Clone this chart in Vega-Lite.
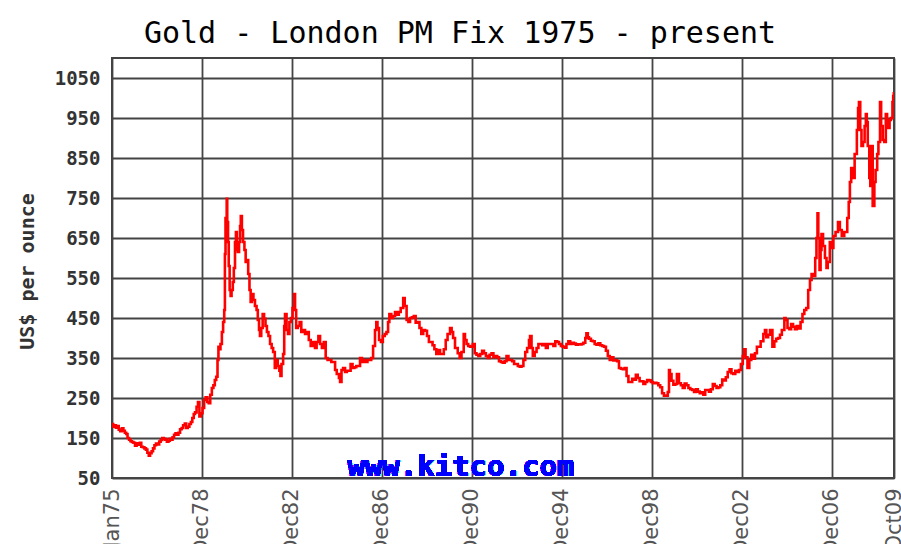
{
  "$schema": "https://vega.github.io/schema/vega-lite/v6.json",
  "autosize": "none",
  "width": 782,
  "height": 420,
  "padding": {"left": 112, "top": 58, "right": 7, "bottom": 66},
  "background": "white",
  "title": {
    "text": "Gold - London PM Fix 1975 - present",
    "font": "DejaVu Sans Mono",
    "fontSize": 30,
    "fontWeight": "normal",
    "color": "#000000",
    "anchor": "middle",
    "frame": "group",
    "baseline": "alphabetic",
    "offset": 14,
    "dx": -43,
    "dy": 29
  },
  "config": {
    "view": {"stroke": "#444444", "strokeWidth": 2},
    "axis": {"gridColor": "#444444", "gridWidth": 1.8, "gridOpacity": 1, "domain": false, "ticks": false}
  },
  "data": {
    "values": [
      {"d": "1975-01-02", "p": 185}, {"d": "1975-01-20", "p": 178}, {"d": "1975-02-10", "p": 182}, {"d": "1975-03-05", "p": 176},
      {"d": "1975-03-25", "p": 180}, {"d": "1975-04-20", "p": 171}, {"d": "1975-05-15", "p": 167}, {"d": "1975-06-10", "p": 174},
      {"d": "1975-07-05", "p": 168}, {"d": "1975-07-28", "p": 163}, {"d": "1975-08-20", "p": 160}, {"d": "1975-09-10", "p": 150},
      {"d": "1975-10-05", "p": 146}, {"d": "1975-10-28", "p": 142}, {"d": "1975-11-20", "p": 140}, {"d": "1975-12-15", "p": 138},
      {"d": "1976-01-10", "p": 131}, {"d": "1976-02-05", "p": 137}, {"d": "1976-03-01", "p": 133}, {"d": "1976-03-28", "p": 138},
      {"d": "1976-04-20", "p": 128}, {"d": "1976-05-15", "p": 127}, {"d": "1976-06-10", "p": 124}, {"d": "1976-07-05", "p": 121},
      {"d": "1976-07-28", "p": 113}, {"d": "1976-08-20", "p": 106}, {"d": "1976-09-10", "p": 112}, {"d": "1976-10-05", "p": 117},
      {"d": "1976-10-28", "p": 124}, {"d": "1976-11-20", "p": 132}, {"d": "1976-12-15", "p": 136}, {"d": "1977-01-10", "p": 134},
      {"d": "1977-02-05", "p": 141}, {"d": "1977-03-01", "p": 145}, {"d": "1977-03-28", "p": 150}, {"d": "1977-04-20", "p": 148},
      {"d": "1977-05-15", "p": 146}, {"d": "1977-06-10", "p": 141}, {"d": "1977-07-05", "p": 143}, {"d": "1977-07-28", "p": 148},
      {"d": "1977-08-20", "p": 146}, {"d": "1977-09-10", "p": 152}, {"d": "1977-10-05", "p": 158}, {"d": "1977-10-28", "p": 162},
      {"d": "1977-11-20", "p": 158}, {"d": "1977-12-15", "p": 163}, {"d": "1978-01-10", "p": 172}, {"d": "1978-02-05", "p": 175},
      {"d": "1978-03-01", "p": 182}, {"d": "1978-03-28", "p": 186}, {"d": "1978-04-20", "p": 175}, {"d": "1978-05-15", "p": 178},
      {"d": "1978-06-10", "p": 185}, {"d": "1978-07-05", "p": 190}, {"d": "1978-07-28", "p": 200}, {"d": "1978-08-20", "p": 210},
      {"d": "1978-09-10", "p": 214}, {"d": "1978-10-05", "p": 228}, {"d": "1978-10-28", "p": 240}, {"d": "1978-11-20", "p": 204},
      {"d": "1978-12-15", "p": 212}, {"d": "1979-01-10", "p": 225}, {"d": "1979-02-05", "p": 245}, {"d": "1979-03-01", "p": 252},
      {"d": "1979-03-28", "p": 240}, {"d": "1979-04-20", "p": 237}, {"d": "1979-05-15", "p": 258}, {"d": "1979-06-10", "p": 275},
      {"d": "1979-07-05", "p": 282}, {"d": "1979-07-28", "p": 295}, {"d": "1979-08-20", "p": 303}, {"d": "1979-09-10", "p": 345},
      {"d": "1979-09-25", "p": 378}, {"d": "1979-10-10", "p": 372}, {"d": "1979-10-28", "p": 385}, {"d": "1979-11-20", "p": 415},
      {"d": "1979-12-10", "p": 440}, {"d": "1979-12-28", "p": 470}, {"d": "1980-01-08", "p": 610}, {"d": "1980-01-18", "p": 700},
      {"d": "1980-02-06", "p": 748}, {"d": "1980-02-15", "p": 690}, {"d": "1980-02-28", "p": 640}, {"d": "1980-03-10", "p": 580},
      {"d": "1980-03-25", "p": 520}, {"d": "1980-04-10", "p": 505}, {"d": "1980-04-25", "p": 520}, {"d": "1980-05-15", "p": 540},
      {"d": "1980-06-01", "p": 575}, {"d": "1980-06-20", "p": 640}, {"d": "1980-07-05", "p": 665}, {"d": "1980-07-20", "p": 620},
      {"d": "1980-08-05", "p": 615}, {"d": "1980-08-25", "p": 640}, {"d": "1980-09-10", "p": 680}, {"d": "1980-09-22", "p": 705},
      {"d": "1980-10-10", "p": 670}, {"d": "1980-10-28", "p": 640}, {"d": "1980-11-20", "p": 620}, {"d": "1980-12-10", "p": 590},
      {"d": "1980-12-28", "p": 595}, {"d": "1981-01-20", "p": 560}, {"d": "1981-02-10", "p": 520}, {"d": "1981-03-01", "p": 490},
      {"d": "1981-03-20", "p": 510}, {"d": "1981-04-15", "p": 495}, {"d": "1981-05-10", "p": 480}, {"d": "1981-06-05", "p": 470},
      {"d": "1981-06-25", "p": 445}, {"d": "1981-07-15", "p": 420}, {"d": "1981-07-30", "p": 405}, {"d": "1981-08-20", "p": 425},
      {"d": "1981-09-12", "p": 460}, {"d": "1981-10-05", "p": 448}, {"d": "1981-10-28", "p": 430}, {"d": "1981-11-20", "p": 415},
      {"d": "1981-12-15", "p": 405}, {"d": "1982-01-10", "p": 385}, {"d": "1982-02-05", "p": 375}, {"d": "1982-03-01", "p": 365},
      {"d": "1982-03-28", "p": 325}, {"d": "1982-04-20", "p": 345}, {"d": "1982-05-15", "p": 330}, {"d": "1982-06-10", "p": 318},
      {"d": "1982-06-28", "p": 305}, {"d": "1982-07-15", "p": 335}, {"d": "1982-08-10", "p": 360}, {"d": "1982-08-28", "p": 430},
      {"d": "1982-09-10", "p": 460}, {"d": "1982-10-05", "p": 420}, {"d": "1982-10-28", "p": 410}, {"d": "1982-11-20", "p": 440},
      {"d": "1982-12-15", "p": 450}, {"d": "1983-01-10", "p": 475}, {"d": "1983-02-05", "p": 510}, {"d": "1983-02-20", "p": 470},
      {"d": "1983-03-10", "p": 425}, {"d": "1983-04-05", "p": 430}, {"d": "1983-05-05", "p": 440}, {"d": "1983-06-01", "p": 415},
      {"d": "1983-07-01", "p": 420}, {"d": "1983-08-01", "p": 410}, {"d": "1983-09-01", "p": 415}, {"d": "1983-10-01", "p": 395},
      {"d": "1983-11-01", "p": 380}, {"d": "1983-12-12", "p": 390}, {"d": "1984-01-10", "p": 375}, {"d": "1984-02-05", "p": 390},
      {"d": "1984-03-05", "p": 405}, {"d": "1984-04-01", "p": 385}, {"d": "1984-05-01", "p": 375}, {"d": "1984-06-01", "p": 390},
      {"d": "1984-07-01", "p": 350}, {"d": "1984-08-01", "p": 345}, {"d": "1984-09-01", "p": 345}, {"d": "1984-10-01", "p": 340},
      {"d": "1984-11-01", "p": 340}, {"d": "1984-12-01", "p": 320}, {"d": "1984-12-28", "p": 310}, {"d": "1985-02-01", "p": 300},
      {"d": "1985-02-20", "p": 290}, {"d": "1985-03-15", "p": 320}, {"d": "1985-04-10", "p": 325}, {"d": "1985-05-12", "p": 315},
      {"d": "1985-06-10", "p": 318}, {"d": "1985-07-10", "p": 318}, {"d": "1985-08-10", "p": 335}, {"d": "1985-09-10", "p": 325},
      {"d": "1985-10-10", "p": 327}, {"d": "1985-11-10", "p": 330}, {"d": "1985-12-10", "p": 330}, {"d": "1986-01-10", "p": 350},
      {"d": "1986-02-10", "p": 340}, {"d": "1986-03-10", "p": 345}, {"d": "1986-04-10", "p": 340}, {"d": "1986-05-10", "p": 345},
      {"d": "1986-06-10", "p": 345}, {"d": "1986-07-10", "p": 350}, {"d": "1986-08-10", "p": 380}, {"d": "1986-09-10", "p": 420},
      {"d": "1986-10-01", "p": 440}, {"d": "1986-10-20", "p": 425}, {"d": "1986-11-15", "p": 395}, {"d": "1986-12-15", "p": 390},
      {"d": "1987-01-15", "p": 405}, {"d": "1987-02-15", "p": 410}, {"d": "1987-03-15", "p": 415}, {"d": "1987-04-10", "p": 440},
      {"d": "1987-05-01", "p": 460}, {"d": "1987-06-01", "p": 450}, {"d": "1987-07-01", "p": 455}, {"d": "1987-08-01", "p": 465},
      {"d": "1987-09-01", "p": 458}, {"d": "1987-10-01", "p": 465}, {"d": "1987-11-01", "p": 475}, {"d": "1987-12-12", "p": 500},
      {"d": "1988-01-05", "p": 480}, {"d": "1988-02-05", "p": 445}, {"d": "1988-03-05", "p": 440}, {"d": "1988-04-01", "p": 450},
      {"d": "1988-05-01", "p": 452}, {"d": "1988-06-01", "p": 455}, {"d": "1988-07-01", "p": 438}, {"d": "1988-08-01", "p": 440},
      {"d": "1988-09-01", "p": 425}, {"d": "1988-10-01", "p": 410}, {"d": "1988-11-01", "p": 420}, {"d": "1988-12-01", "p": 418},
      {"d": "1989-01-01", "p": 405}, {"d": "1989-02-01", "p": 390}, {"d": "1989-03-01", "p": 390}, {"d": "1989-04-01", "p": 382},
      {"d": "1989-05-01", "p": 372}, {"d": "1989-06-01", "p": 360}, {"d": "1989-07-01", "p": 370}, {"d": "1989-08-01", "p": 360},
      {"d": "1989-09-01", "p": 360}, {"d": "1989-10-01", "p": 372}, {"d": "1989-11-01", "p": 395}, {"d": "1989-12-01", "p": 410},
      {"d": "1990-01-10", "p": 425}, {"d": "1990-02-05", "p": 415}, {"d": "1990-03-01", "p": 400}, {"d": "1990-04-01", "p": 375},
      {"d": "1990-05-15", "p": 362}, {"d": "1990-06-15", "p": 350}, {"d": "1990-07-15", "p": 365}, {"d": "1990-08-20", "p": 410},
      {"d": "1990-09-10", "p": 395}, {"d": "1990-10-05", "p": 385}, {"d": "1990-11-01", "p": 380}, {"d": "1990-12-01", "p": 378},
      {"d": "1991-01-15", "p": 385}, {"d": "1991-02-15", "p": 362}, {"d": "1991-03-15", "p": 358}, {"d": "1991-04-15", "p": 355},
      {"d": "1991-05-15", "p": 360}, {"d": "1991-06-15", "p": 368}, {"d": "1991-07-15", "p": 362}, {"d": "1991-08-15", "p": 355},
      {"d": "1991-09-15", "p": 350}, {"d": "1991-10-15", "p": 358}, {"d": "1991-11-15", "p": 362}, {"d": "1991-12-15", "p": 352},
      {"d": "1992-01-15", "p": 355}, {"d": "1992-02-15", "p": 352}, {"d": "1992-03-15", "p": 342}, {"d": "1992-04-15", "p": 340},
      {"d": "1992-05-15", "p": 338}, {"d": "1992-06-15", "p": 342}, {"d": "1992-07-15", "p": 355}, {"d": "1992-08-15", "p": 345},
      {"d": "1992-09-15", "p": 345}, {"d": "1992-10-15", "p": 342}, {"d": "1992-11-15", "p": 335}, {"d": "1992-12-15", "p": 335},
      {"d": "1993-01-15", "p": 330}, {"d": "1993-02-15", "p": 328}, {"d": "1993-03-15", "p": 330}, {"d": "1993-04-15", "p": 345},
      {"d": "1993-05-15", "p": 365}, {"d": "1993-06-15", "p": 375}, {"d": "1993-07-15", "p": 395}, {"d": "1993-08-01", "p": 405},
      {"d": "1993-08-25", "p": 375}, {"d": "1993-09-15", "p": 355}, {"d": "1993-10-15", "p": 365}, {"d": "1993-11-15", "p": 375},
      {"d": "1993-12-15", "p": 385}, {"d": "1994-01-15", "p": 385}, {"d": "1994-02-15", "p": 382}, {"d": "1994-03-15", "p": 385},
      {"d": "1994-04-15", "p": 375}, {"d": "1994-05-15", "p": 385}, {"d": "1994-06-15", "p": 385}, {"d": "1994-07-15", "p": 385},
      {"d": "1994-08-15", "p": 380}, {"d": "1994-09-15", "p": 392}, {"d": "1994-10-15", "p": 390}, {"d": "1994-11-15", "p": 385},
      {"d": "1994-12-15", "p": 380}, {"d": "1995-01-15", "p": 378}, {"d": "1995-02-15", "p": 376}, {"d": "1995-03-15", "p": 385},
      {"d": "1995-04-15", "p": 392}, {"d": "1995-05-15", "p": 385}, {"d": "1995-06-15", "p": 388}, {"d": "1995-07-15", "p": 386},
      {"d": "1995-08-15", "p": 383}, {"d": "1995-09-15", "p": 384}, {"d": "1995-10-15", "p": 384}, {"d": "1995-11-15", "p": 385},
      {"d": "1995-12-15", "p": 388}, {"d": "1996-01-15", "p": 400}, {"d": "1996-02-02", "p": 412}, {"d": "1996-02-25", "p": 402},
      {"d": "1996-03-15", "p": 398}, {"d": "1996-04-15", "p": 393}, {"d": "1996-05-15", "p": 392}, {"d": "1996-06-15", "p": 385},
      {"d": "1996-07-15", "p": 383}, {"d": "1996-08-15", "p": 387}, {"d": "1996-09-15", "p": 382}, {"d": "1996-10-15", "p": 380},
      {"d": "1996-11-15", "p": 378}, {"d": "1996-12-15", "p": 368}, {"d": "1997-01-15", "p": 355}, {"d": "1997-02-15", "p": 345},
      {"d": "1997-03-15", "p": 352}, {"d": "1997-04-15", "p": 344}, {"d": "1997-05-15", "p": 344}, {"d": "1997-06-15", "p": 342},
      {"d": "1997-07-15", "p": 325}, {"d": "1997-08-15", "p": 323}, {"d": "1997-09-15", "p": 322}, {"d": "1997-10-15", "p": 325},
      {"d": "1997-11-15", "p": 305}, {"d": "1997-12-15", "p": 290}, {"d": "1998-01-15", "p": 290}, {"d": "1998-02-15", "p": 298},
      {"d": "1998-03-15", "p": 296}, {"d": "1998-04-15", "p": 308}, {"d": "1998-05-15", "p": 300}, {"d": "1998-06-15", "p": 292},
      {"d": "1998-07-15", "p": 292}, {"d": "1998-08-15", "p": 285}, {"d": "1998-09-15", "p": 290}, {"d": "1998-10-15", "p": 295},
      {"d": "1998-11-15", "p": 294}, {"d": "1998-12-15", "p": 290}, {"d": "1999-01-15", "p": 287}, {"d": "1999-02-15", "p": 288},
      {"d": "1999-03-15", "p": 287}, {"d": "1999-04-15", "p": 282}, {"d": "1999-05-15", "p": 277}, {"d": "1999-06-15", "p": 262},
      {"d": "1999-07-15", "p": 256}, {"d": "1999-08-15", "p": 256}, {"d": "1999-09-15", "p": 265}, {"d": "1999-10-05", "p": 320},
      {"d": "1999-10-20", "p": 310}, {"d": "1999-11-15", "p": 293}, {"d": "1999-12-15", "p": 283}, {"d": "2000-01-15", "p": 285},
      {"d": "2000-02-10", "p": 310}, {"d": "2000-03-15", "p": 287}, {"d": "2000-04-15", "p": 282}, {"d": "2000-05-15", "p": 275},
      {"d": "2000-06-15", "p": 286}, {"d": "2000-07-15", "p": 282}, {"d": "2000-08-15", "p": 275}, {"d": "2000-09-15", "p": 272},
      {"d": "2000-10-15", "p": 270}, {"d": "2000-11-15", "p": 265}, {"d": "2000-12-15", "p": 272}, {"d": "2001-01-15", "p": 266},
      {"d": "2001-02-15", "p": 262}, {"d": "2001-03-15", "p": 264}, {"d": "2001-04-15", "p": 258}, {"d": "2001-05-15", "p": 270},
      {"d": "2001-06-15", "p": 270}, {"d": "2001-07-15", "p": 266}, {"d": "2001-08-15", "p": 272}, {"d": "2001-09-15", "p": 285},
      {"d": "2001-10-15", "p": 280}, {"d": "2001-11-15", "p": 275}, {"d": "2001-12-15", "p": 277}, {"d": "2002-01-15", "p": 282},
      {"d": "2002-02-15", "p": 296}, {"d": "2002-03-15", "p": 294}, {"d": "2002-04-15", "p": 302}, {"d": "2002-05-15", "p": 315},
      {"d": "2002-06-15", "p": 322}, {"d": "2002-07-15", "p": 312}, {"d": "2002-08-15", "p": 310}, {"d": "2002-09-15", "p": 318},
      {"d": "2002-10-15", "p": 315}, {"d": "2002-11-15", "p": 320}, {"d": "2002-12-15", "p": 335}, {"d": "2003-01-15", "p": 355},
      {"d": "2003-02-05", "p": 372}, {"d": "2003-03-01", "p": 352}, {"d": "2003-04-01", "p": 325}, {"d": "2003-05-01", "p": 345},
      {"d": "2003-06-01", "p": 358}, {"d": "2003-07-01", "p": 348}, {"d": "2003-08-01", "p": 362}, {"d": "2003-09-01", "p": 378},
      {"d": "2003-10-01", "p": 378}, {"d": "2003-11-01", "p": 392}, {"d": "2003-12-15", "p": 410}, {"d": "2004-01-10", "p": 420},
      {"d": "2004-02-01", "p": 402}, {"d": "2004-03-01", "p": 408}, {"d": "2004-04-01", "p": 420}, {"d": "2004-05-10", "p": 378},
      {"d": "2004-06-10", "p": 392}, {"d": "2004-07-10", "p": 398}, {"d": "2004-08-10", "p": 400}, {"d": "2004-09-10", "p": 408},
      {"d": "2004-10-10", "p": 420}, {"d": "2004-11-20", "p": 450}, {"d": "2004-12-10", "p": 445}, {"d": "2005-01-10", "p": 425},
      {"d": "2005-02-10", "p": 422}, {"d": "2005-03-10", "p": 435}, {"d": "2005-04-10", "p": 428}, {"d": "2005-05-10", "p": 422},
      {"d": "2005-06-10", "p": 430}, {"d": "2005-07-10", "p": 424}, {"d": "2005-08-10", "p": 440}, {"d": "2005-09-10", "p": 460},
      {"d": "2005-10-10", "p": 470}, {"d": "2005-11-10", "p": 475}, {"d": "2005-12-12", "p": 520}, {"d": "2006-01-10", "p": 545},
      {"d": "2006-02-05", "p": 560}, {"d": "2006-03-05", "p": 555}, {"d": "2006-04-05", "p": 600}, {"d": "2006-04-25", "p": 650},
      {"d": "2006-05-12", "p": 712}, {"d": "2006-05-25", "p": 650}, {"d": "2006-06-14", "p": 570}, {"d": "2006-07-01", "p": 620},
      {"d": "2006-07-16", "p": 660}, {"d": "2006-08-10", "p": 630}, {"d": "2006-09-10", "p": 600}, {"d": "2006-10-05", "p": 575},
      {"d": "2006-10-25", "p": 590}, {"d": "2006-11-28", "p": 640}, {"d": "2007-01-05", "p": 625}, {"d": "2007-01-25", "p": 655},
      {"d": "2007-03-01", "p": 665}, {"d": "2007-04-10", "p": 690}, {"d": "2007-05-10", "p": 670}, {"d": "2007-06-10", "p": 655},
      {"d": "2007-07-20", "p": 665}, {"d": "2007-08-15", "p": 665}, {"d": "2007-09-07", "p": 700}, {"d": "2007-10-01", "p": 740},
      {"d": "2007-10-20", "p": 790}, {"d": "2007-11-10", "p": 825}, {"d": "2007-12-01", "p": 800}, {"d": "2008-01-05", "p": 860},
      {"d": "2008-02-10", "p": 920}, {"d": "2008-03-01", "p": 975}, {"d": "2008-03-15", "p": 990}, {"d": "2008-04-05", "p": 920},
      {"d": "2008-04-25", "p": 880}, {"d": "2008-05-20", "p": 890}, {"d": "2008-06-15", "p": 930}, {"d": "2008-07-05", "p": 960},
      {"d": "2008-07-20", "p": 940}, {"d": "2008-08-05", "p": 880}, {"d": "2008-08-30", "p": 800}, {"d": "2008-09-15", "p": 780},
      {"d": "2008-10-05", "p": 880}, {"d": "2008-10-24", "p": 730}, {"d": "2008-11-20", "p": 790}, {"d": "2008-12-10", "p": 820},
      {"d": "2009-01-05", "p": 860}, {"d": "2009-01-25", "p": 890}, {"d": "2009-02-20", "p": 990}, {"d": "2009-03-10", "p": 930},
      {"d": "2009-04-05", "p": 895}, {"d": "2009-05-01", "p": 890}, {"d": "2009-05-25", "p": 960}, {"d": "2009-06-15", "p": 935},
      {"d": "2009-07-05", "p": 925}, {"d": "2009-07-25", "p": 945}, {"d": "2009-08-15", "p": 950}, {"d": "2009-09-10", "p": 990},
      {"d": "2009-09-22", "p": 1005}, {"d": "2009-10-02", "p": 1015}
    ]
  },
  "layer": [
    {
      "mark": {"type": "line", "color": "#ff0000", "strokeWidth": 2.6, "clip": true, "interpolate": "step-after"},
      "encoding": {
        "x": {
          "field": "d",
          "type": "temporal",
          "scale": {"type": "utc", "domain": [{"year": 1975, "month": 1, "date": 1, "utc": true}, {"year": 2009, "month": 10, "date": 5, "utc": true}], "nice": false},
          "axis": {
            "title": null,
            "values": [
              {"year": 1975, "month": 1, "date": 1, "utc": true},
              {"year": 1978, "month": 12, "date": 31, "utc": true},
              {"year": 1982, "month": 12, "date": 31, "utc": true},
              {"year": 1986, "month": 12, "date": 31, "utc": true},
              {"year": 1990, "month": 12, "date": 31, "utc": true},
              {"year": 1994, "month": 12, "date": 31, "utc": true},
              {"year": 1998, "month": 12, "date": 31, "utc": true},
              {"year": 2002, "month": 12, "date": 31, "utc": true},
              {"year": 2006, "month": 12, "date": 31, "utc": true},
              {"year": 2009, "month": 10, "date": 5, "utc": true}
            ],
            "labelExpr": "utcFormat(datum.value, '%b%y')",
            "labelAngle": 270,
            "labelAlign": "right",
            "labelBaseline": "middle",
            "labelFont": "DejaVu Sans",
            "labelFontSize": 21,
            "labelColor": "#555555",
            "labelPadding": 10,
            "labelOverlap": false,
            "labelFlush": false,
            "labelBound": false,
            "grid": true
          }
        },
        "y": {
          "field": "p",
          "type": "quantitative",
          "scale": {"domain": [50, 1100], "nice": false, "zero": false},
          "axis": {
            "title": "US$ per ounce",
            "titleFont": "DejaVu Sans Mono",
            "titleFontSize": 20,
            "titleFontWeight": "bold",
            "titleColor": "#333333",
            "titleAngle": 270,
            "titleAlign": "center",
            "titleBaseline": "middle",
            "titleX": -85,
            "titleY": 213,
            "values": [50, 100, 150, 200, 250, 300, 350, 400, 450, 500, 550, 600, 650, 700, 750, 800, 850, 900, 950, 1000, 1050, 1100],
            "labelExpr": "datum.value % 100 == 50 ? datum.label : ''",
            "labelFont": "DejaVu Sans Mono",
            "labelFontSize": 19,
            "labelFontWeight": "bold",
            "labelColor": "#333333",
            "labelPadding": 12,
            "labelOverlap": false,
            "labelFlush": false,
            "labelBound": false,
            "format": "d",
            "grid": true
          }
        }
      }
    },
    {
      "mark": {"type": "text", "text": "www.kitco.com", "font": "DejaVu Sans Mono", "fontSize": 29, "fontWeight": "bold", "color": "#0000ff", "align": "center", "baseline": "alphabetic"},
      "encoding": {
        "x": {"datum": {"year": 1990, "month": 7, "date": 5, "utc": true}, "type": "temporal"},
        "y": {"datum": 55, "type": "quantitative"}
      }
    }
  ]
}
